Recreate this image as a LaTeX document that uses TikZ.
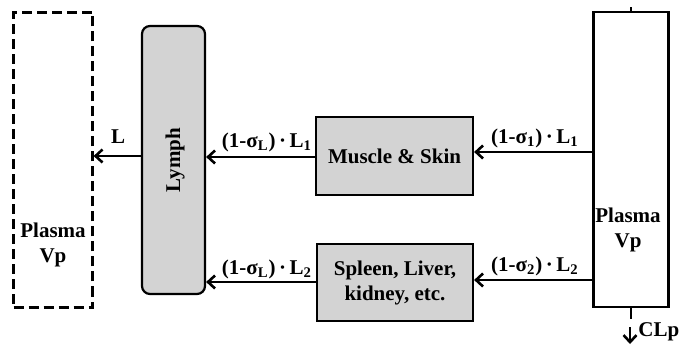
\documentclass[tikz,border=0pt]{standalone}
\usepackage{fontspec}
\setmainfont{Liberation Serif}
\usetikzlibrary{arrows.meta}
\definecolor{boxgray}{RGB}{211,211,211}
\tikzset{
  box/.style={draw=black, line width=1.1pt, inner sep=0pt, align=center},
  arr/.style={line width=1.3pt, -{Straight Barb[length=3.5pt,width=6.5pt,line width=1.3pt]}},
  lbl/.style={font=\fontsize{10.5}{12}\selectfont\bfseries, inner sep=1pt},
  txt/.style={font=\fontsize{10.5}{12.5}\selectfont\bfseries, align=center, inner sep=0pt}
}
\begin{document}
\begin{tikzpicture}[x=0.5pt,y=-0.5pt]
\useasboundingbox (0,0) rectangle (688,346);
% boxes
\node[box, dashed, dash pattern=on 5pt off 2.5pt, minimum width=39.5pt, minimum height=147.5pt] (lv) at (53,160) {};
\node[txt] (lvt) at (53,245) {Plasma\\Vp};
\node[box, fill=boxgray, rounded corners=4pt, minimum width=31.5pt, minimum height=134pt] (ly) at (173.5,160) {};
\node[txt, rotate=90] (lyt) at (175,160) {Lymph};
\node[box, fill=boxgray, minimum width=78.5pt, minimum height=39pt, txt] (ms) at (394.5,156) {Muscle \& Skin};
\node[box, fill=boxgray, minimum width=78pt, minimum height=38.5pt, txt] (sp) at (395,282.5) {Spleen, Liver,\\kidney, etc.};
\node[box, fill=white, minimum width=37.5pt, minimum height=147.5pt] (rv) at (631,159.5) {};
\node[txt] (rvt) at (628,230) {Plasma\\Vp};
% connectors
\draw[arr] (ly.west |- 0,156) -- (lv.east |- 0,156);
\draw[arr] (ms.west |- 0,157) -- (ly.east |- 0,157);
\draw[arr] (rv.west |- 0,152) -- (ms.east |- 0,152);
\draw[arr] (sp.west |- 0,282) -- (ly.east |- 0,282);
\draw[arr] (rv.west |- 0,280) -- (sp.east |- 0,280);
% labels
\node[lbl] (lL) at (118,137) {L};
\node[lbl] (l1) at (267,142) {(1-σ\textsubscript{L})\,·\,L\textsubscript{1}};
\node[lbl] (r1) at (535,138) {(1-σ\textsubscript{1})\,·\,L\textsubscript{1}};
\node[lbl] (l2) at (267,269) {(1-σ\textsubscript{L})\,·\,L\textsubscript{2}};
\node[lbl] (r2) at (535,266) {(1-σ\textsubscript{2})\,·\,L\textsubscript{2}};
% ticks and clearance
\draw[line width=1.1pt] (rv.north) -- ++(0,-4);
\draw[line width=1.3pt] (rv.south) -- ++(0,11);
\coordinate (cs) at (630,327);
\coordinate (ce) at (630,344);
\draw[arr] (cs) -- (ce);
\node[lbl, anchor=west] (cl) at (636,332) {CLp};
\end{tikzpicture}
\end{document}
